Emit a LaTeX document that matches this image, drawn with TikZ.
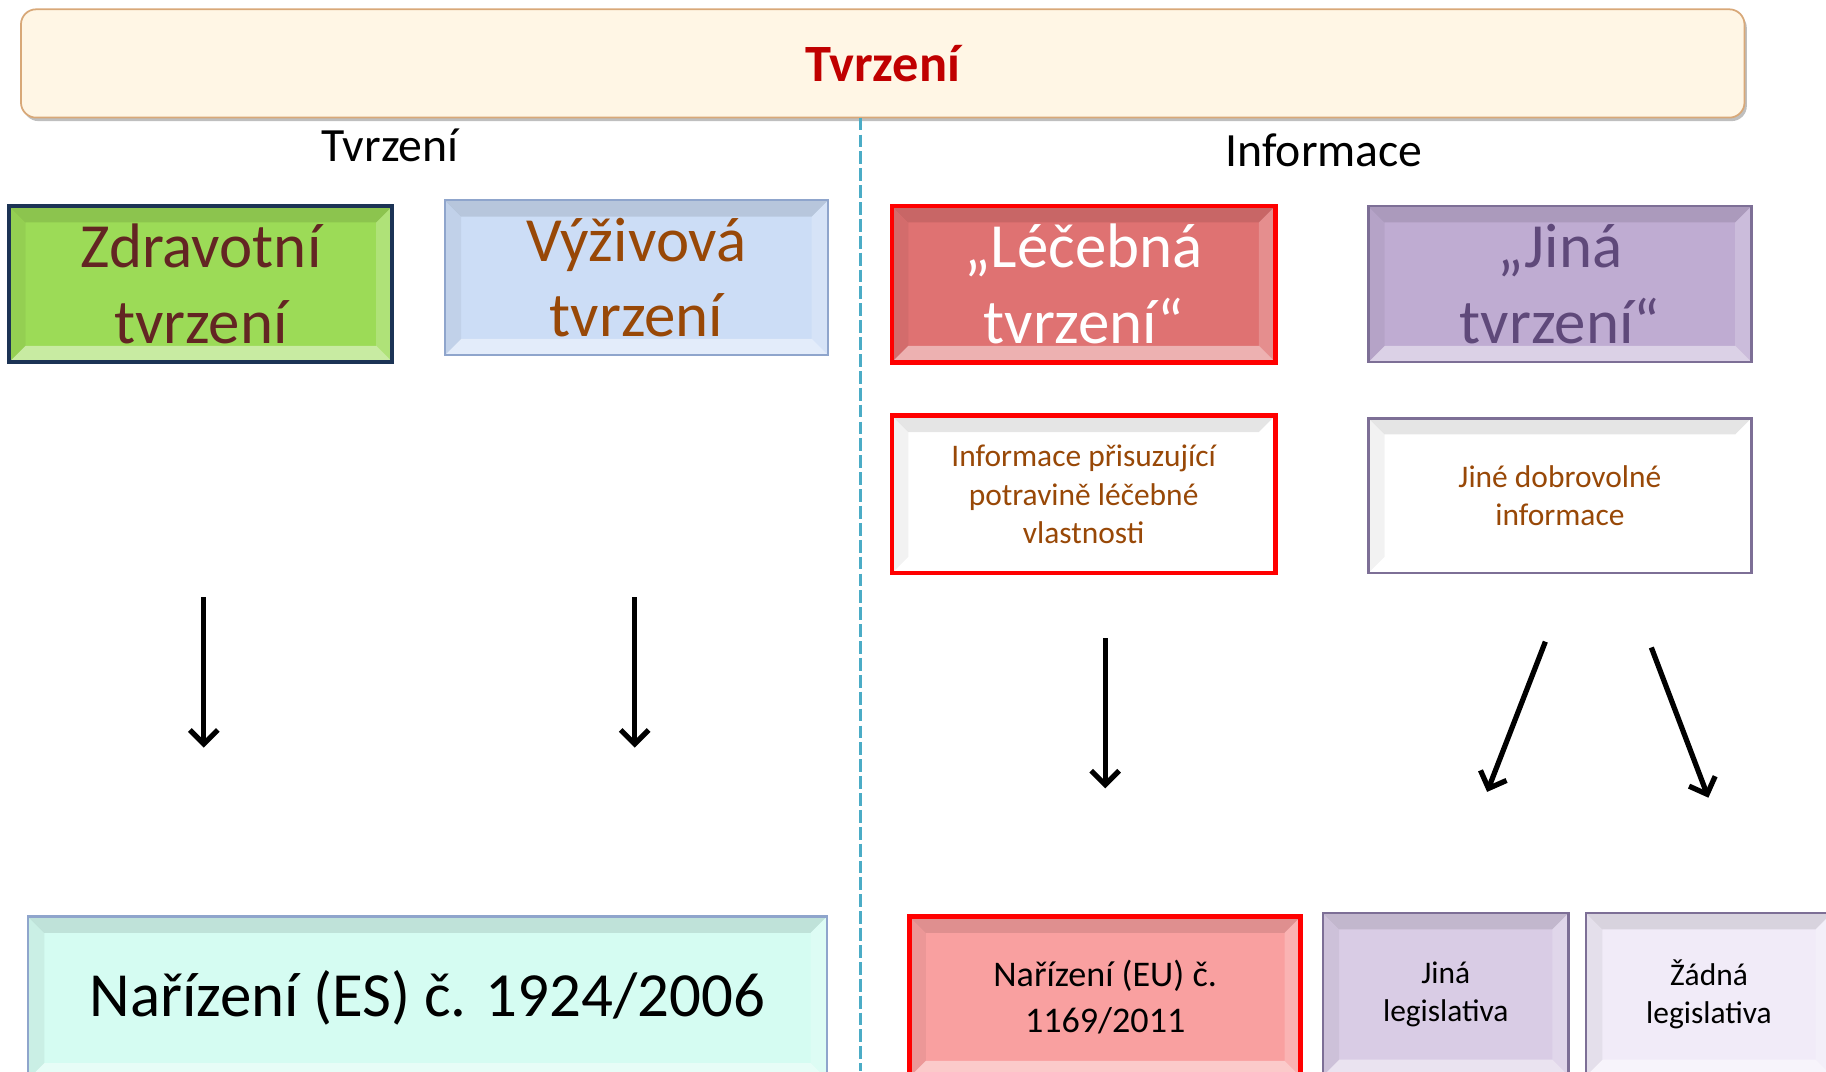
\documentclass[tikz,border=0pt]{standalone}
\usepackage{fontspec}
\setmainfont{Carlito}
\usetikzlibrary{arrows.meta, shadows}

\definecolor{bannerfill}{HTML}{FFF6E5}
\definecolor{bannerdraw}{HTML}{D8A878}
\definecolor{titlered}{HTML}{C00000}
\definecolor{divider}{HTML}{4BACC6}
\definecolor{healthfill}{HTML}{9CDB57}
\definecolor{healthdraw}{HTML}{1C3355}
\definecolor{healthtext}{HTML}{632523}
\definecolor{nutrifill}{HTML}{CCDDF6}
\definecolor{bluedraw}{HTML}{8FA5CC}
\definecolor{browntext}{HTML}{984807}
\definecolor{medfill}{HTML}{DF7272}
\definecolor{otherfill}{HTML}{BFACD2}
\definecolor{purpledraw}{HTML}{7D6F96}
\definecolor{purpletext}{HTML}{5F497A}
\definecolor{esfill}{HTML}{D5FCF2}
\definecolor{eufill}{HTML}{F9A0A0}
\definecolor{legfill}{HTML}{D9CCE5}
\definecolor{nolegfill}{HTML}{F1EBF8}

\tikzset{
  bevel/.style={path picture={
    \fill[black, opacity=.10] (path picture bounding box.north west) -- (path picture bounding box.north east)
      -- ([shift={(-14pt,-14pt)}]path picture bounding box.north east) -- ([shift={(14pt,-14pt)}]path picture bounding box.north west) -- cycle;
    \fill[white, opacity=.45] (path picture bounding box.south west) -- (path picture bounding box.south east)
      -- ([shift={(-14pt,14pt)}]path picture bounding box.south east) -- ([shift={(14pt,14pt)}]path picture bounding box.south west) -- cycle;
    \fill[white, opacity=.20] (path picture bounding box.north east) -- (path picture bounding box.south east)
      -- ([shift={(-14pt,14pt)}]path picture bounding box.south east) -- ([shift={(-14pt,-14pt)}]path picture bounding box.north east) -- cycle;
    \fill[black, opacity=.05] (path picture bounding box.north west) -- (path picture bounding box.south west)
      -- ([shift={(14pt,14pt)}]path picture bounding box.south west) -- ([shift={(14pt,-14pt)}]path picture bounding box.north west) -- cycle;
  }},
  box/.style={rectangle, draw, line width=2pt, align=center, inner sep=0pt, bevel},
  bigtext/.style={font=\fontsize{54}{65}\selectfont},
  smalltext/.style={font=\fontsize{27}{33}\selectfont},
  headtext/.style={font=\fontsize{41}{49}\selectfont},
  arrow/.style={line width=4.5pt, -{Straight Barb[length=12pt,width=24pt]}},
}

\begin{document}
\begin{tikzpicture}[x=1pt, y=-1pt]
        \useasboundingbox (0,0) rectangle (1568,920);
        \clip (0,0) rectangle (1568,920);

        % Banner
        \node[rectangle, rounded corners=13pt, draw=bannerdraw, line width=1.5pt, fill=bannerfill,
              drop shadow={shadow xshift=2pt, shadow yshift=-3pt, opacity=.5},
              minimum width=1480pt, minimum height=93pt, text=titlered,
              font=\fontsize{45}{54}\selectfont\bfseries] (banner) at (758, 54.5) {Tvrzení};

        % Divider
        \coordinate (divtop) at (739, 101);
        \coordinate (divbot) at (739, 920);
        \draw[divider, line width=3pt, dash pattern=on 11pt off 3.5pt] (divtop) -- (divbot);

        % Headings
        \node[headtext] (claimshead) at (335, 125) {Tvrzení};
        \node[headtext] (infohead) at (1137, 129) {Informace};

        % Top boxes
        \node[box, bigtext, fill=healthfill, draw=healthdraw, line width=3.5pt, text=healthtext,
              minimum width=329pt, minimum height=134pt] (health) at (172.5, 244) {Zdravotní\\tvrzení};
        \node[box, bigtext, fill=nutrifill, draw=bluedraw, text=browntext,
              minimum width=329pt, minimum height=133pt] (nutri) at (546.5, 238.5) {Výživová\\tvrzení};
        \node[box, bigtext, fill=medfill, draw=red, line width=4pt, text=white,
              minimum width=329pt, minimum height=134pt] (medic) at (930.5, 244) {„Léčebná\\tvrzení“};
        \node[box, bigtext, fill=otherfill, draw=purpledraw, text=purpletext,
              minimum width=329pt, minimum height=134pt] (other) at (1339.5, 244) {„Jiná\\tvrzení“};

        % Info boxes
        \node[box, smalltext, fill=white, draw=red, line width=4pt, text=browntext,
              minimum width=329pt, minimum height=135pt] (medinfo) at (930.5, 424.5) {Informace přisuzující\\potravině léčebné\\vlastnosti};
        \node[box, smalltext, fill=white, draw=purpledraw, line width=2.5pt, text=browntext,
              minimum width=329pt, minimum height=133pt] (othinfo) at (1339.5, 425.5) {Jiné dobrovolné\\informace};

        % Legislation boxes
        \node[box, font=\fontsize{54}{65}\selectfont, fill=esfill, draw=bluedraw,
              minimum width=686pt, minimum height=140pt] (regES) at (367, 857) {Nařízení (ES) č. 1924/2006};
        \node[box, font=\fontsize{31}{39}\selectfont, fill=eufill, draw=red, line width=4pt,
              minimum width=336pt, minimum height=138pt] (regEU) at (949, 856) {Nařízení (EU) č.\\1169/2011};
        \node[box, smalltext, fill=legfill, draw=purpledraw,
              minimum width=211pt, minimum height=140pt] (othleg) at (1241.5, 854) {Jiná\\legislativa};
        \node[box, smalltext, fill=nolegfill, draw=purpledraw,
              minimum width=211pt, minimum height=140pt] (noleg) at (1467.5, 854) {Žádná\\legislativa};

        % Arrows
        \coordinate (a1s) at (175, 513);  \coordinate (a1e) at (175, 642);
        \coordinate (a2s) at (545, 513);  \coordinate (a2e) at (545, 642);
        \coordinate (a3s) at (949, 548);  \coordinate (a3e) at (949, 677);
        \coordinate (a4s) at (1327, 551); \coordinate (a4e) at (1277, 680);
        \coordinate (a5s) at (1418, 556); \coordinate (a5e) at (1467, 685);
        \draw[arrow] (a1s) -- (a1e);
        \draw[arrow] (a2s) -- (a2e);
        \draw[arrow] (a3s) -- (a3e);
        \draw[arrow] (a4s) -- (a4e);
        \draw[arrow] (a5s) -- (a5e);
    \end{tikzpicture}
\end{document}
